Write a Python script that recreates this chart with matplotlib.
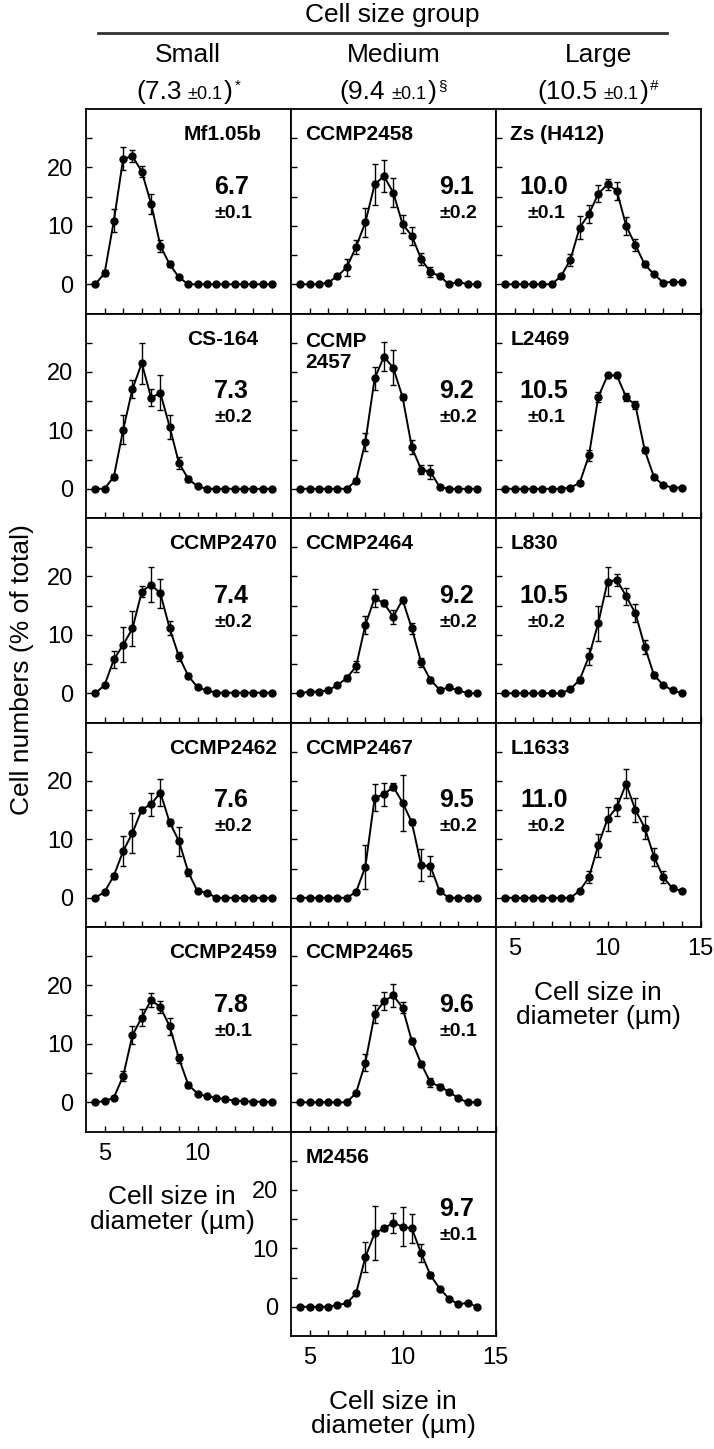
import matplotlib
matplotlib.use('Agg')
import matplotlib.pyplot as plt
from matplotlib.lines import Line2D

plt.rcParams['font.family'] = ['Liberation Sans', 'DejaVu Sans']

# Diâmetro das células (classes de 0,5 µm)
diametros = [4.5, 5.0, 5.5, 6.0, 6.5, 7.0, 7.5, 8.0, 8.5, 9.0,
             9.5, 10.0, 10.5, 11.0, 11.5, 12.0, 12.5, 13.0, 13.5, 14.0]

# --------------------------------- grupo pequeno ---------------------------------
mf105b = [0, 1.9, 10.9, 21.5, 21.9, 19.3, 13.8, 6.6, 3.4, 1.2, 0, 0, 0, 0, 0, 0, 0, 0, 0, 0]
mf105b_err = [0, 0.5, 2.0, 2.0, 1.0, 1.0, 1.7, 1.0, 0.5, 0.3, 0, 0, 0, 0, 0, 0, 0, 0, 0, 0]
cs164 = [0, 0, 2.1, 10.1, 17.1, 21.5, 15.6, 16.4, 10.6, 4.4, 1.7, 0.4, 0, 0, 0, 0, 0, 0, 0, 0]
cs164_err = [0, 0, 0.5, 2.5, 1.5, 3.5, 1.5, 3.0, 2.0, 1.0, 0.5, 0, 0, 0, 0, 0, 0, 0, 0, 0]
ccmp2470 = [0, 1.4, 5.8, 8.3, 11.1, 17.4, 18.6, 17.1, 11.1, 6.3, 3.0, 1.0, 0.5, 0.1, 0.1, 0.1, 0.1, 0.1, 0.1, 0.1]
ccmp2470_err = [0, 0.3, 1.5, 3.0, 3.0, 1.0, 3.0, 2.5, 1.2, 0.8, 0.4, 0.2, 0, 0, 0, 0, 0, 0, 0, 0]
ccmp2462 = [0, 1.0, 3.8, 8.0, 11.1, 15.1, 16.0, 18.0, 12.9, 9.7, 4.4, 1.1, 0.9, 0, 0, 0, 0, 0, 0, 0]
ccmp2462_err = [0, 0.3, 0.5, 2.5, 3.4, 0.5, 2.0, 2.3, 0.6, 2.5, 0.6, 0.2, 0, 0, 0, 0, 0, 0, 0, 0]
ccmp2459 = [0, 0.2, 0.8, 4.5, 11.5, 14.5, 17.5, 16.3, 13.0, 7.5, 3.0, 1.5, 1.0, 0.8, 0.5, 0.3, 0.2, 0.1, 0.1, 0.1]
ccmp2459_err = [0, 0, 0.3, 0.8, 1.5, 1.5, 1.2, 1.0, 1.5, 0.8, 0.5, 0.3, 0, 0, 0, 0, 0, 0, 0, 0]

# --------------------------------- grupo médio ---------------------------------
ccmp2458 = [0, 0, 0, 0.3, 1.4, 2.9, 6.4, 10.6, 17.1, 18.5, 15.7, 10.3, 8.3, 4.3, 2.1, 1.4, 0, 0.4, 0, 0]
ccmp2458_err = [0, 0, 0, 0, 0.3, 1.5, 1.2, 2.5, 3.5, 2.7, 2.5, 1.5, 1.5, 1.0, 0.8, 0.3, 0, 0, 0, 0]
ccmp2457 = [0, 0, 0, 0, 0, 0, 1.4, 8.0, 18.9, 22.6, 20.7, 15.7, 7.1, 3.3, 2.9, 0.3, 0, 0, 0, 0]
ccmp2457_err = [0, 0, 0, 0, 0, 0, 0.4, 1.5, 2.0, 2.5, 3.0, 0.5, 1.2, 0.8, 1.2, 0.2, 0, 0, 0, 0]
ccmp2464 = [0, 0.3, 0.3, 0.5, 1.4, 2.6, 4.6, 11.7, 16.3, 15.4, 13.1, 16.0, 11.1, 5.3, 2.3, 0.6, 1.0, 0.5, 0, 0]
ccmp2464_err = [0, 0, 0, 0, 0.3, 0.5, 1.0, 1.5, 1.5, 0.5, 1.2, 0.5, 1.0, 0.8, 0.5, 0.2, 0.2, 0, 0, 0]
ccmp2467 = [0, 0, 0, 0, 0, 0, 1.0, 5.3, 17.1, 17.7, 19.0, 16.3, 12.9, 5.6, 5.4, 1.1, 0, 0, 0, 0]
ccmp2467_err = [0, 0, 0, 0, 0, 0, 0.3, 3.8, 2.3, 2.0, 0.6, 4.8, 0.5, 2.7, 1.7, 0.3, 0, 0, 0, 0]
ccmp2465 = [0, 0, 0, 0, 0, 0, 1.6, 6.8, 15.1, 17.3, 18.3, 16.2, 10.5, 6.6, 3.4, 2.7, 1.8, 0.7, 0, 0]
ccmp2465_err = [0, 0, 0, 0, 0, 0, 0.3, 1.5, 1.5, 1.5, 2.0, 1.0, 0.5, 0.5, 0.8, 0.4, 0.3, 0, 0, 0]
m2456 = [0, 0, 0, 0, 0.3, 0.6, 2.3, 8.5, 12.6, 13.4, 14.4, 13.7, 13.4, 9.2, 5.4, 3.1, 1.4, 0.4, 0.7, 0]
m2456_err = [0, 0, 0, 0, 0, 0, 0.3, 2.6, 4.6, 0.5, 1.7, 3.3, 2.4, 1.5, 0.5, 0.3, 0.2, 0, 0, 0]

# --------------------------------- grupo grande ---------------------------------
zs_h412 = [0, 0, 0, 0, 0, 0, 1.4, 4.2, 9.7, 12.0, 15.5, 17.1, 16.0, 10.0, 6.7, 3.4, 1.7, 0.3, 0.4, 0.4]
zs_h412_err = [0, 0, 0, 0, 0, 0, 0.3, 1.0, 2.0, 1.5, 1.5, 1.0, 1.5, 1.5, 1.0, 0.5, 0.3, 0, 0, 0]
l2469 = [0, 0, 0, 0, 0, 0, 0, 0.2, 1.0, 5.7, 15.7, 19.4, 19.4, 15.7, 14.3, 6.6, 2.0, 0.6, 0.2, 0.2]
l2469_err = [0, 0, 0, 0, 0, 0, 0, 0, 0.3, 1.0, 0.8, 0.3, 0.5, 0.7, 0.7, 0.5, 0.3, 0, 0, 0]
l830 = [0, 0, 0, 0, 0, 0, 0, 0.7, 2.3, 6.3, 12.0, 19.1, 19.4, 16.6, 13.7, 8.0, 3.1, 1.4, 0.5, 0]
l830_err = [0, 0, 0, 0, 0, 0, 0, 0.3, 0.5, 1.5, 3.0, 2.5, 1.0, 1.5, 1.5, 1.2, 0.5, 0.3, 0, 0]
l1633 = [0, 0, 0, 0, 0, 0, 0, 0, 1.2, 3.5, 9.0, 13.5, 15.5, 19.5, 15.0, 12.0, 7.0, 3.5, 1.6, 1.2]
l1633_err = [0, 0, 0, 0, 0, 0, 0, 0, 0.3, 1.0, 2.0, 2.0, 1.5, 2.5, 2.0, 2.0, 1.5, 1.0, 0.3, 0]

# (coluna, linha, nome, valores, erros, média, erro da média)
paineis = [
    (0, 0, 'Mf1.05b', mf105b, mf105b_err, '6.7', '±0.1'),
    (0, 1, 'CS-164', cs164, cs164_err, '7.3', '±0.2'),
    (0, 2, 'CCMP2470', ccmp2470, ccmp2470_err, '7.4', '±0.2'),
    (0, 3, 'CCMP2462', ccmp2462, ccmp2462_err, '7.6', '±0.2'),
    (0, 4, 'CCMP2459', ccmp2459, ccmp2459_err, '7.8', '±0.1'),
    (1, 0, 'CCMP2458', ccmp2458, ccmp2458_err, '9.1', '±0.2'),
    (1, 1, 'CCMP\n2457', ccmp2457, ccmp2457_err, '9.2', '±0.2'),
    (1, 2, 'CCMP2464', ccmp2464, ccmp2464_err, '9.2', '±0.2'),
    (1, 3, 'CCMP2467', ccmp2467, ccmp2467_err, '9.5', '±0.2'),
    (1, 4, 'CCMP2465', ccmp2465, ccmp2465_err, '9.6', '±0.1'),
    (1, 5, 'M2456', m2456, m2456_err, '9.7', '±0.1'),
    (2, 0, 'Zs (H412)', zs_h412, zs_h412_err, '10.0', '±0.1'),
    (2, 1, 'L2469', l2469, l2469_err, '10.5', '±0.1'),
    (2, 2, 'L830', l830, l830_err, '10.5', '±0.2'),
    (2, 3, 'L1633', l1633, l1633_err, '11.0', '±0.2'),
]

grupos = ['Small', 'Medium', 'Large']
medias_grupo = ['(7.3', '(9.4', '(10.5']
simbolos_grupo = ['*', '§', '#']

# Layout em pixels
W, H = 714, 1449
esquerdas = [86, 291, 496]
larg = 204.5
topo = 109
alt = 204.5

fig = plt.figure(figsize=(W / 100, H / 100), dpi=100)


def eixo(col, lin):
    x0 = esquerdas[col] / W
    y0 = 1 - (topo + (lin + 1) * alt) / H
    return fig.add_axes([x0, y0, larg / W, alt / H])


ultima_linha = {0: 4, 1: 5, 2: 3}

for col, lin, nome, vals, errs, media, erro in paineis:
    ax = eixo(col, lin)
    ax.errorbar(diametros, vals, yerr=errs, fmt='-o', color='black', ms=5,
                lw=1.4, elinewidth=1.0, capsize=2, capthick=1.0)
    ax.set_xlim(4, 15)
    ax.set_ylim(-5, 30)
    ax.set_xticks([5, 10, 15])
    ax.set_xticks([6, 7, 8, 9, 11, 12, 13, 14], minor=True)
    ax.set_yticks([0, 10, 20])
    ax.set_yticks([5, 15, 25], minor=True)
    ax.tick_params(which='both', direction='in', length=4, width=1, labelsize=17)
    for s in ax.spines.values():
        s.set_linewidth(1.3)

    mostra_y = (col == 0) or (col == 1 and lin == 5)
    mostra_x = (lin == ultima_linha[col])
    ax.tick_params(axis='y', labelleft=mostra_y, pad=9)
    ax.tick_params(axis='x', labelbottom=mostra_x, pad=8)
    if col == 0 and mostra_x:
        ax.set_xticklabels(['5', '10', ''])

    # nome da cepa
    if col == 0:
        ax.text(0.67, 0.875, nome, transform=ax.transAxes, ha='center', va='center',
                fontsize=15, fontweight='bold')
    elif '\n' in nome:
        l1, l2 = nome.split('\n')
        ax.text(0.07, 0.865, l1, transform=ax.transAxes, ha='left', va='center',
                fontsize=15, fontweight='bold')
        ax.text(0.07, 0.76, l2, transform=ax.transAxes, ha='left', va='center',
                fontsize=15, fontweight='bold')
    else:
        ax.text(0.07, 0.875, nome, transform=ax.transAxes, ha='left', va='center',
                fontsize=15, fontweight='bold')

    # média de diâmetro
    xm = {0: 0.71, 1: 0.81, 2: 0.235}[col]
    ax.text(xm, 0.62, media, transform=ax.transAxes, ha='center', va='center',
            fontsize=18, fontweight='bold')
    ax.text(xm + 0.01, 0.49, erro, transform=ax.transAxes, ha='center', va='center',
            fontsize=14, fontweight='bold')

    # rótulo do eixo x nos painéis de baixo
    if mostra_x:
        yb = topo + (lin + 1) * alt
        xc = esquerdas[col] + larg / 2
        if col == 0:
            xc = 172
        fig.text(xc / W, 1 - (yb + 78) / H,
                 'Cell size in\ndiameter (µm)', ha='center', va='center',
                 fontsize=19, linespacing=1.05)

# Rótulo do eixo y
fig.text(22 / W, 1 - 670 / H, 'Cell numbers (% of total)', rotation=90,
         ha='center', va='center', fontsize=19)

# Cabeçalho
fig.text(392 / W, 1 - 15 / H, 'Cell size group', ha='center', va='center', fontsize=19)
fig.add_artist(Line2D([98 / W, 667 / W], [1 - 33 / H, 1 - 33 / H], color='#333333', lw=2))

renderer = fig.canvas.get_renderer()


def texto_composto(xc, y_base, pedacos):
    # pedacos: (texto, tamanho, deslocamento vertical px, espaço depois px)
    objs = []
    total = 0
    for s, tam, dy, gap in pedacos:
        t = fig.text(0, 0, s, fontsize=tam, ha='left', va='baseline', transform=None)
        w = t.get_window_extent(renderer).width
        objs.append((t, w, dy, gap))
        total += w + gap
    x = xc - total / 2
    for t, w, dy, gap in objs:
        t.set_position((x, H - y_base + dy))
        x += w + gap


for i in range(3):
    xc = esquerdas[i] + larg / 2
    fig.text(xc / W, 1 - 55 / H, grupos[i], ha='center', va='center', fontsize=19)
    texto_composto(xc, 99, [(medias_grupo[i], 19, 0, 6),
                            ('±0.1', 13, 0, 1),
                            (')', 19, 0, 2),
                            (simbolos_grupo[i], 11, 9, 0)])

fig.savefig('out.png', dpi=100)
